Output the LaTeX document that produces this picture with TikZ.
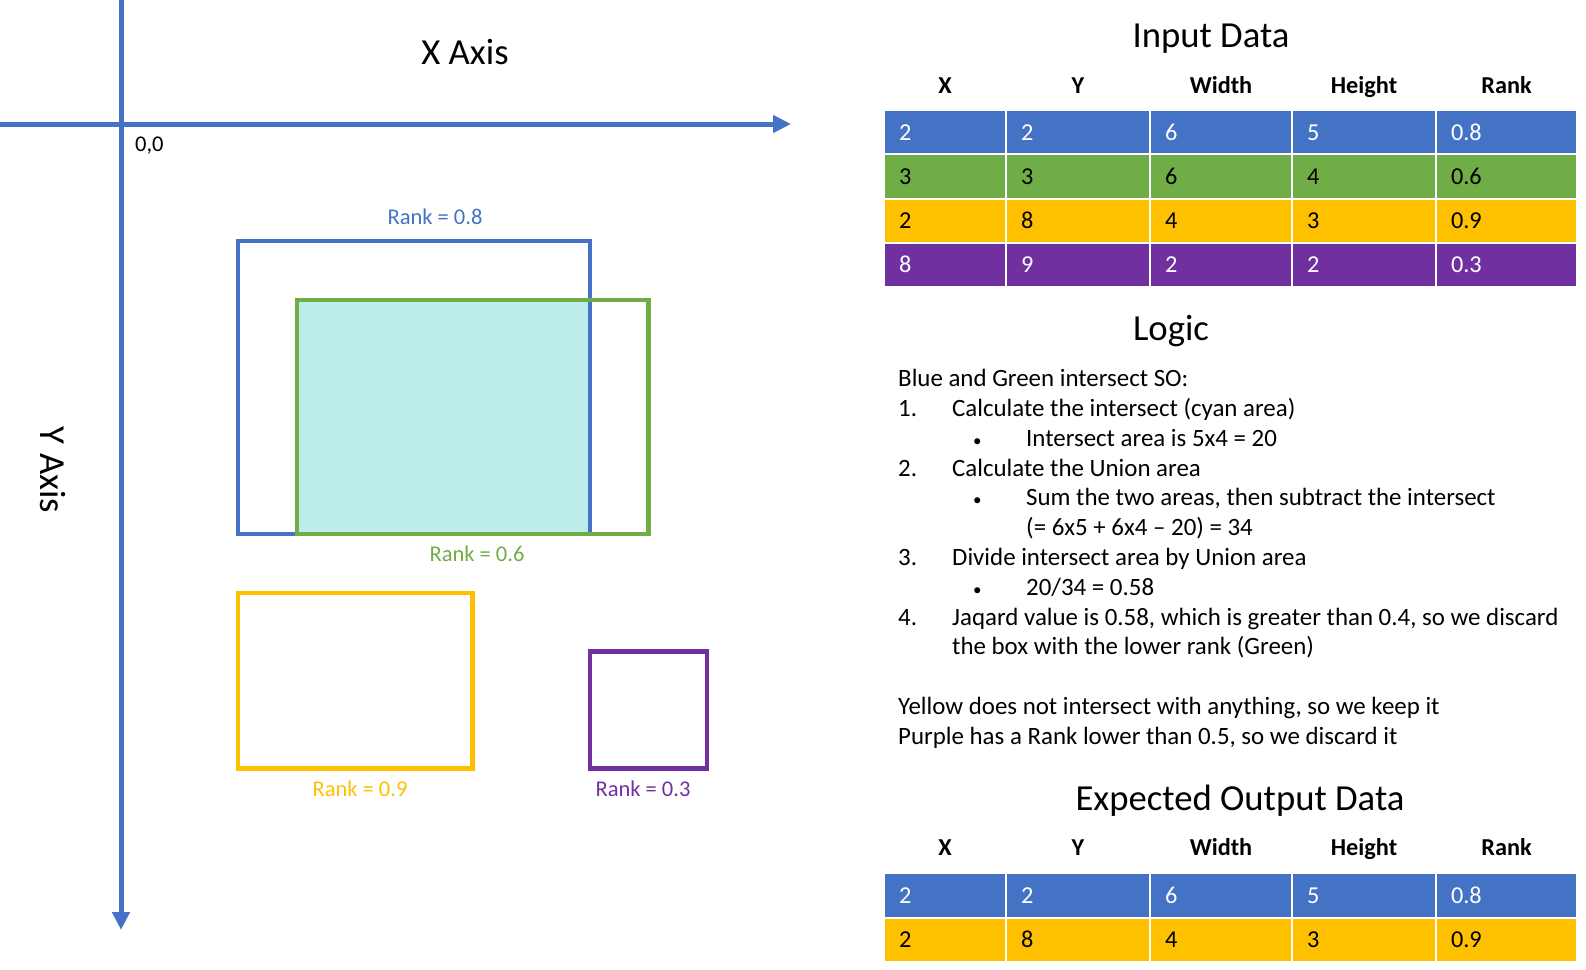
\documentclass[tikz,border=0pt]{standalone}
\usepackage{fontspec}
\setmainfont{Carlito}
\usepackage{tikz}
\usetikzlibrary{shapes,arrows.meta}
\usepackage{xcolor}
\definecolor{boxblue}{HTML}{4472C4}
\definecolor{boxgreen}{HTML}{70AD47}
\definecolor{boxgold}{HTML}{FFC000}
\definecolor{boxpurple}{HTML}{7030A0}
\definecolor{boxcyan}{HTML}{BDEDEB}
\newcommand{\bigtxt}{\fontsize{36.7}{44}\selectfont}
\newcommand{\tabtxt}{\fontsize{24.3}{29}\selectfont}
\newcommand{\logtxt}{\fontsize{24.9}{29.8}\selectfont}
\newcommand{\ranktxt}{\fontsize{22.5}{27}\selectfont}
\newcommand{\smallbul}{{\fontsize{17}{20}\selectfont\textbullet}}
\tikzstyle{axis} = [draw, boxblue, line width=5pt, -{Triangle[length=18pt,width=17pt]}]
\tikzstyle{bbox} = [draw, line width=4.5pt]
\tikzstyle{title} = [font=\bigtxt, text height=23.4pt, text depth=0pt]
\tikzstyle{ranklabel} = [font=\ranktxt, text height=14.4pt, text depth=0pt]
\tikzstyle{logic} = [anchor=west, font=\logtxt, text height=15.9pt, text depth=0pt]
\tikzstyle{head} = [font=\tabtxt\bfseries, text height=15.6pt, text depth=0pt]
\tikzstyle{cell} = [draw=white, line width=2pt, minimum height=44.3pt, align=left, font=\tabtxt, text height=15.6pt, text depth=0pt]
\tikzstyle{colA} = [minimum width=122pt, text width=92pt]
\tikzstyle{colB} = [minimum width=144pt, text width=114pt]
\tikzstyle{colC} = [minimum width=142pt, text width=112pt]
\tikzstyle{colD} = [minimum width=144pt, text width=114pt]
\tikzstyle{colE} = [minimum width=141pt, text width=111pt]
\tikzstyle{rowblue} = [fill=boxblue, text=white]
\tikzstyle{rowgreen} = [fill=boxgreen, text=black]
\tikzstyle{rowgold} = [fill=boxgold, text=black]
\tikzstyle{rowpurple} = [fill=boxpurple, text=white]

\begin{document}
\begin{tikzpicture}[x=1pt, y=-1pt]
            \tikzstyle{every node}+=[inner sep=0pt]
                \useasboundingbox (0,0) rectangle (1586,969);
                \coordinate (xs) at (0,124);
                \coordinate (xe) at (791,124);
                \coordinate (ys) at (121,0);
                \coordinate (ye) at (121,930);
                \path [axis] (xs) -- (xe);
                \path [axis] (ys) -- (ye);
                \node [title] (xlab) at (465,53) {X Axis};
                \node [title, rotate=-90] (ylab) at (52,470) {Y Axis};
                \node [ranklabel, anchor=west] (orig) at (135,144) {0,0};
                \begin{scope}[shift={(121,124)}, x=58.6pt, y=-58.6pt]
                \fill [boxcyan] (3,3) rectangle (8,7);
                \draw [boxblue, bbox] (2,2) rectangle (8,7);
                \draw [boxgreen, bbox] (3,3) rectangle (9,7);
                \draw [boxgold, bbox] (2,8) rectangle (6,11);
                \draw [boxpurple, bbox] (8,9) rectangle (10,11);
                \end{scope}
                \node [ranklabel, text=boxblue] (rkblue) at (435,217) {Rank = 0.8};
                \node [ranklabel, text=boxgreen] (rkgreen) at (477,554) {Rank = 0.6};
                \node [ranklabel, text=boxgold] (rkgold) at (360,789) {Rank = 0.9};
                \node [ranklabel, text=boxpurple] (rkpurple) at (643,789) {Rank = 0.3};
                \node [title] (intitle) at (1211,36) {Input Data};
                \node [head] (ihx) at (945,86) {X};
                \node [head] (ihy) at (1078,86) {Y};
                \node [head] (ihw) at (1221,86) {Width};
                \node [head] (ihh) at (1364,86) {Height};
                \node [head] (ihr) at (1506.5,86) {Rank};
                \node [cell, colA, rowblue] (i11) at (945,132.2) {2};
                \node [cell, colB, rowblue] (i12) at (1078,132.2) {2};
                \node [cell, colC, rowblue] (i13) at (1221,132.2) {6};
                \node [cell, colD, rowblue] (i14) at (1364,132.2) {5};
                \node [cell, colE, rowblue] (i15) at (1506.5,132.2) {0.8};
                \node [cell, colA, rowgreen] (i21) at (945,176.5) {3};
                \node [cell, colB, rowgreen] (i22) at (1078,176.5) {3};
                \node [cell, colC, rowgreen] (i23) at (1221,176.5) {6};
                \node [cell, colD, rowgreen] (i24) at (1364,176.5) {4};
                \node [cell, colE, rowgreen] (i25) at (1506.5,176.5) {0.6};
                \node [cell, colA, rowgold] (i31) at (945,220.8) {2};
                \node [cell, colB, rowgold] (i32) at (1078,220.8) {8};
                \node [cell, colC, rowgold] (i33) at (1221,220.8) {4};
                \node [cell, colD, rowgold] (i34) at (1364,220.8) {3};
                \node [cell, colE, rowgold] (i35) at (1506.5,220.8) {0.9};
                \node [cell, colA, rowpurple] (i41) at (945,265.1) {8};
                \node [cell, colB, rowpurple] (i42) at (1078,265.1) {9};
                \node [cell, colC, rowpurple] (i43) at (1221,265.1) {2};
                \node [cell, colD, rowpurple] (i44) at (1364,265.1) {2};
                \node [cell, colE, rowpurple] (i45) at (1506.5,265.1) {0.3};
                \node [title] (logtitle) at (1171,329) {Logic};
                \node [logic] (lg0) at (898,379) {Blue and Green intersect SO:};
                \node [logic] (num1) at (898,409) {1.};
                \node [logic] (lg1) at (952,409) {Calculate the intersect (cyan area)};
                \node [logic] (bul1) at (973,439) {\smallbul};
                \node [logic] (lg1a) at (1026,439) {Intersect area is 5x4 = 20};
                \node [logic] (num2) at (898,469) {2.};
                \node [logic] (lg2) at (952,469) {Calculate the Union area};
                \node [logic] (bul2) at (973,498) {\smallbul};
                \node [logic] (lg2a) at (1026,498) {Sum the two areas, then subtract the intersect};
                \node [logic] (lg2b) at (1026,528) {(= 6x5 + 6x4 – 20) = 34};
                \node [logic] (num3) at (898,558) {3.};
                \node [logic] (lg3) at (952,558) {Divide intersect area by Union area};
                \node [logic] (bul3) at (973,588) {\smallbul};
                \node [logic] (lg3a) at (1026,588) {20/34 = 0.58};
                \node [logic] (num4) at (898,618) {4.};
                \node [logic] (lg4) at (952,618) {Jaqard value is 0.58, which is greater than 0.4, so we discard};
                \node [logic] (lg4b) at (952,647) {the box with the lower rank (Green)};
                \node [logic] (lgy) at (898,707) {Yellow does not intersect with anything, so we keep it};
                \node [logic] (lgp) at (898,737) {Purple has a Rank lower than 0.5, so we discard it};
                \node [title] (outtitle) at (1240,799) {Expected Output Data};
                \node [head] (ohx) at (945,848) {X};
                \node [head] (ohy) at (1078,848) {Y};
                \node [head] (ohw) at (1221,848) {Width};
                \node [head] (ohh) at (1364,848) {Height};
                \node [head] (ohr) at (1506.5,848) {Rank};
                \node [cell, colA, rowblue] (o11) at (945,895.5) {2};
                \node [cell, colB, rowblue] (o12) at (1078,895.5) {2};
                \node [cell, colC, rowblue] (o13) at (1221,895.5) {6};
                \node [cell, colD, rowblue] (o14) at (1364,895.5) {5};
                \node [cell, colE, rowblue] (o15) at (1506.5,895.5) {0.8};
                \node [cell, colA, rowgold] (o21) at (945,939.8) {2};
                \node [cell, colB, rowgold] (o22) at (1078,939.8) {8};
                \node [cell, colC, rowgold] (o23) at (1221,939.8) {4};
                \node [cell, colD, rowgold] (o24) at (1364,939.8) {3};
                \node [cell, colE, rowgold] (o25) at (1506.5,939.8) {0.9};
            \end{tikzpicture}
\end{document}
